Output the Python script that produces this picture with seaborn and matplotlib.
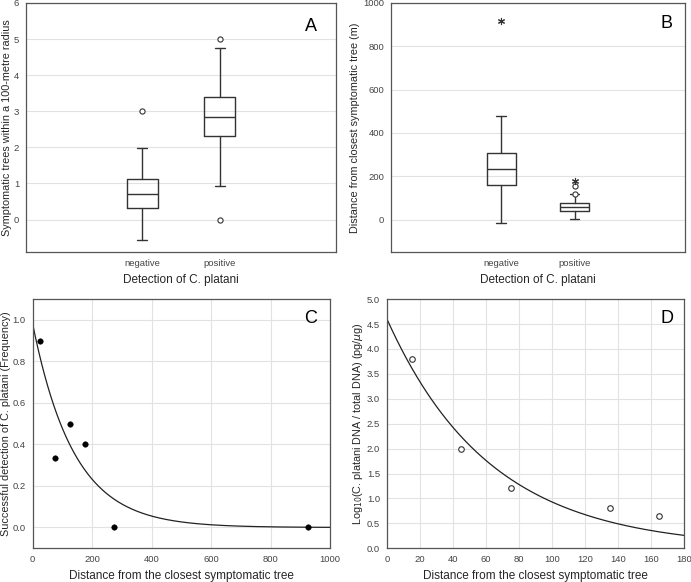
import numpy as np
import pandas as pd
import seaborn as sns
import matplotlib.pyplot as plt

# box plot summaries (panels A and B)
groups = ['negative', 'positive']

a_q1 = [0.33, 2.32]
a_med = [0.72, 2.84]
a_q3 = [1.11, 3.38]
a_whislo = [-0.56, 0.94]
a_whishi = [1.99, 4.76]
a_outliers = {'negative': [3.0], 'positive': [0.0, 5.0]}
a_extremes = {'negative': [], 'positive': []}

b_q1 = [159, 40]
b_med = [231, 58]
b_q3 = [307, 74]
b_whislo = [-14, 3]
b_whishi = [477, 117]
b_outliers = {'negative': [], 'positive': [120, 154]}
b_extremes = {'negative': [918], 'positive': [179]}

# panel C: detection frequency vs distance
c_dist = [25, 75, 125, 175, 275, 925]
c_freq = [0.9, 0.333, 0.5, 0.4, 0.0, 0.0]
c_fit_a, c_fit_k = 0.98, 0.0072

# panel D: log10 DNA ratio vs distance
d_dist = [15, 45, 75, 135, 165]
d_logdna = [3.8, 2.0, 1.2, 0.8, 0.65]
d_fit_a, d_fit_k = 4.6, 0.016

sns.set_theme(style='white')
plt.rcParams['font.family'] = ['Liberation Sans', 'DejaVu Sans']

GRID = '#e2e2e2'
SPINE = '#555555'
TICK = '#444444'
BOX = '#333333'
LAB = 8.5
YLAB = 7.8

fig = plt.figure(figsize=(6.91, 5.82), dpi=100)
axA = fig.add_axes([0.0376, 0.567, 0.4486, 0.428])
axB = fig.add_axes([0.566, 0.567, 0.425, 0.428])
axC = fig.add_axes([0.0473, 0.058, 0.4303, 0.428])
axD = fig.add_axes([0.560, 0.058, 0.430, 0.428])


def style(ax, xgrid):
    for s in ax.spines.values():
        s.set_color(SPINE)
        s.set_linewidth(0.9)
    ax.grid(True, axis='y', color=GRID, lw=0.8)
    if xgrid:
        ax.grid(True, axis='x', color=GRID, lw=0.8)
    ax.set_axisbelow(True)
    ax.tick_params(labelsize=6.8, labelcolor=TICK, length=3, width=0.7,
                   color=SPINE, pad=2, direction='out')


def boxpanel(ax, q1, med, q3, lo, hi, outl, extr):
    stats = []
    for i, g in enumerate(groups):
        stats.append(dict(label=g, q1=q1[i], med=med[i], q3=q3[i],
                          whislo=lo[i], whishi=hi[i], fliers=[]))
    ax.bxp(stats, positions=[0, 1], widths=0.4, capwidths=0.13,
           showfliers=False, patch_artist=False,
           boxprops=dict(color=BOX, lw=1.0),
           medianprops=dict(color=BOX, lw=1.0),
           whiskerprops=dict(color=BOX, lw=1.0),
           capprops=dict(color=BOX, lw=1.0))
    pts = pd.DataFrame([(i, v, 'o') for i, g in enumerate(groups) for v in outl[g]] +
                       [(i, v, '*') for i, g in enumerate(groups) for v in extr[g]],
                       columns=['x', 'y', 'kind'])
    o = pts[pts.kind == 'o']
    e = pts[pts.kind == '*']
    if len(o):
        sns.scatterplot(data=o, x='x', y='y', ax=ax, marker='o', s=14,
                        facecolor='white', edgecolor=BOX, linewidth=0.8, zorder=3)
    if len(e):
        sns.scatterplot(data=e, x='x', y='y', ax=ax, marker=(6, 2, 0), s=20,
                        color=BOX, linewidth=0.8, zorder=3)
    ax.set_xlim(-1.5, 2.5)
    ax.set_xticks([0, 1])
    ax.set_xticklabels(groups)
    ax.set_xlabel('Detection of C. platani', fontsize=LAB, labelpad=4)


boxpanel(axA, a_q1, a_med, a_q3, a_whislo, a_whishi, a_outliers, a_extremes)
style(axA, False)
axA.set_ylim(-0.9, 6)
axA.set_yticks(range(0, 7))
axA.set_ylabel('Symptomatic trees within a 100-metre radius', fontsize=YLAB)
axA.yaxis.set_label_coords(-0.046, 0.5)

boxpanel(axB, b_q1, b_med, b_q3, b_whislo, b_whishi, b_outliers, b_extremes)
style(axB, False)
axB.set_ylim(-150, 1000)
axB.set_yticks(range(0, 1001, 200))
axB.set_ylabel('Distance from closest symptomatic tree (m)', fontsize=YLAB)
axB.yaxis.set_label_coords(-0.105, 0.5)

# panel C
xc = np.linspace(0, 1000, 400)
sns.lineplot(x=xc, y=c_fit_a * np.exp(-c_fit_k * xc), ax=axC, color='#222222', lw=0.9)
sns.scatterplot(x=c_dist, y=c_freq, ax=axC, color='black', s=16, edgecolor='black', zorder=3)
style(axC, True)
axC.set_xlim(0, 1000)
axC.set_ylim(-0.1, 1.1)
axC.set_xticks(range(0, 1001, 200))
axC.set_yticks(np.arange(0, 1.01, 0.2))
axC.set_yticklabels([f'{v:.1f}' for v in np.arange(0, 1.01, 0.2)])
axC.set_xlabel('Distance from the closest symptomatic tree', fontsize=LAB, labelpad=4)
axC.set_ylabel('Successful detection of C. platani (Frequency)', fontsize=YLAB)
axC.yaxis.set_label_coords(-0.074, 0.5)

# panel D
xd = np.linspace(0, 180, 300)
sns.lineplot(x=xd, y=d_fit_a * np.exp(-d_fit_k * xd), ax=axD, color='#222222', lw=0.9)
sns.scatterplot(x=d_dist, y=d_logdna, ax=axD, marker='o', s=16,
                facecolor='white', edgecolor='#333333', linewidth=0.8, zorder=3)
style(axD, True)
axD.set_xlim(0, 180)
axD.set_ylim(0, 5)
axD.set_xticks(range(0, 181, 20))
axD.set_yticks(np.arange(0, 5.01, 0.5))
axD.set_yticklabels([f'{v:.1f}' for v in np.arange(0, 5.01, 0.5)])
axD.set_xlabel('Distance from the closest symptomatic tree', fontsize=LAB, labelpad=4)
axD.set_ylabel(r'Log$_{10}$(C. platani DNA / total DNA) (pg/$\mu$g)', fontsize=YLAB)
axD.yaxis.set_label_coords(-0.074, 0.5)

for ax, letter, x, y in [(axA, 'A', 0.939, 0.94), (axB, 'B', 0.959, 0.952),
                         (axC, 'C', 0.956, 0.957), (axD, 'D', 0.966, 0.957)]:
    ax.text(x, y, letter, transform=ax.transAxes, ha='right', va='top',
            fontsize=13, color='black')

fig.savefig('out.png', dpi=100)
